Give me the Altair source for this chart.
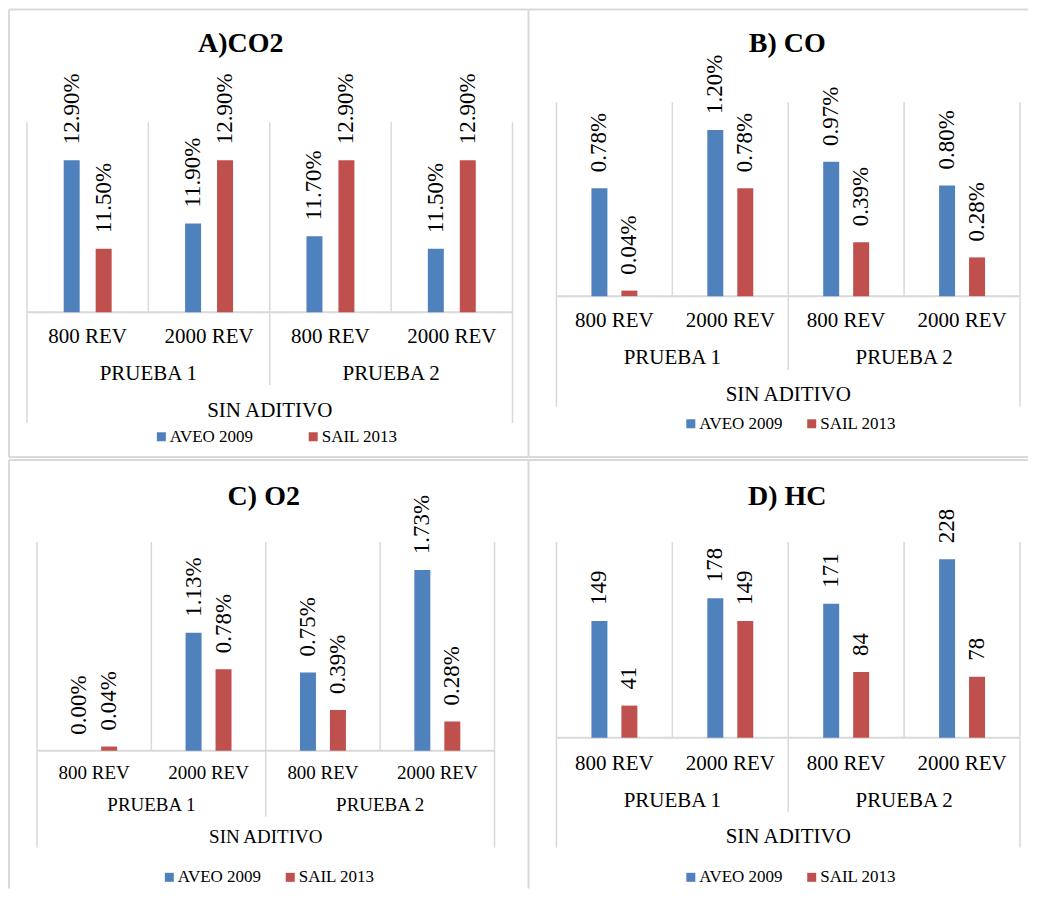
import altair as alt
import pandas as pd

# ---------------- data ----------------
REV = ["800 REV", "2000 REV", "800 REV", "2000 REV"]
PRUEBA = ["PRUEBA 1", "PRUEBA 1", "PRUEBA 2", "PRUEBA 2"]
LEVEL3 = ["SIN ADITIVO"]
SERIES = ["AVEO 2009", "SAIL 2013"]
COLORS = ["#4F81BD", "#C0504D"]

TITLES = ["A)CO2", "B) CO", "C) O2", "D) HC"]

CO2_AVEO = [12.90, 11.90, 11.70, 11.50]
CO2_SAIL = [11.50, 12.90, 12.90, 12.90]
CO_AVEO = [0.78, 1.20, 0.97, 0.80]
CO_SAIL = [0.04, 0.78, 0.39, 0.28]
O2_AVEO = [0.00, 1.13, 0.75, 1.73]
O2_SAIL = [0.04, 0.78, 0.39, 0.28]
HC_AVEO = [149, 178, 171, 228]
HC_SAIL = [41, 149, 84, 78]

Y_DOMAINS = [[10.5, 13.5], [0, 1.4], [0, 2.0], [0, 250]]

FONT = "'Liberation Serif', 'Times New Roman', Times, serif"
GRID = "#D9D9D9"
BORDER = "#D9D9D9"


def pct(v):
    return f"{v:.2f}%"


def intf(v):
    return f"{int(v)}"


# layout of each panel (pixels inside its cell)
GEOM = [
    dict(W=521, H=449, x0=19, x1=505, top=114, base=304, tcx=233, ty=44,
         l1=335, l2=372, l3=409, f1=21, f2=21, f3=21, lx=145, ly=420, cp=51, off=16,
         eo=415, em=377, borders=[("h", 1, 521, 1), ("h", 1, 521, 449), ("v", 1, 1, 449)]),
    dict(W=500, H=449, x0=28, x1=492, top=94, base=288, tcx=259, ty=44,
         l1=319, l2=356, l3=393, f1=21, f2=21, f3=21, lx=154, ly=407, cp=20, off=15,
         eo=399, em=362, borders=[("h", 0, 500, 1), ("h", 0, 500, 449), ("v", 0, 1, 449)]),
    dict(W=521, H=432, x0=29, x1=487, top=85, base=294, tcx=256, ty=48,
         l1=322, l2=354, l3=386, f1=19, f2=19, f3=19, lx=153, ly=412, cp=20, off=15,
         eo=391, em=360, borders=[("h", 1, 521, 3), ("v", 1, 3, 432)]),
    dict(W=500, H=432, x0=28, x1=492, top=85, base=281, tcx=259, ty=48,
         l1=313, l2=350, l3=386, f1=21, f2=21, f3=21, lx=154, ly=412, cp=20, off=15,
         eo=391, em=355, borders=[("h", 0, 500, 3), ("v", 0, 3, 432)]),
]


def make_panel(title, aveo, sail, ydom, fmt, g):
    keys = [f"{p}|{r}" for p, r in zip(PRUEBA, REV)]
    bars = pd.DataFrame({
        "key": keys * 2,
        "serie": [SERIES[0]] * 4 + [SERIES[1]] * 4,
        "valor": list(aveo) + list(sail),
    })
    bars["etiqueta"] = [fmt(v) for v in bars["valor"]]
    groups = pd.DataFrame({"key": keys, "rev": REV, "prueba": PRUEBA})
    one = pd.DataFrame({"t": [title]})

    xscale = alt.Scale(domain=keys, range=[g["x0"], g["x1"]], paddingInner=0, paddingOuter=0)
    yscale = alt.Scale(domain=ydom, range=[g["base"], g["top"]], zero=False, nice=False)
    cscale = alt.Scale(domain=SERIES, range=COLORS)

    layers = []
    # grid lines at group boundaries
    base_g = alt.Chart(groups)
    layers.append(base_g.mark_rule(color=GRID, strokeWidth=1.5).encode(
        x=alt.X("key:N", bandPosition=0, scale=xscale, axis=None),
        y=alt.Y(datum=ydom[1], scale=yscale, axis=None),
        y2=alt.datum(ydom[0]),
    ))
    layers.append(base_g.transform_filter(alt.datum.key == keys[3]).mark_rule(color=GRID, strokeWidth=1.5).encode(
        x=alt.X("key:N", bandPosition=1, axis=None),
        y=alt.Y(datum=ydom[1], axis=None),
        y2=alt.datum(ydom[0]),
    ))
    for k, bp, end in [(keys[0], 0, g["eo"]), (keys[3], 1, g["eo"]), (keys[2], 0, g["em"])]:
        layers.append(base_g.transform_filter(alt.datum.key == k).mark_rule(color=GRID, strokeWidth=1.5).encode(
            x=alt.X("key:N", bandPosition=bp, axis=None),
            y=alt.value(g["base"]),
            y2=alt.value(end),
        ))
    layers.append(alt.Chart(one).mark_rule(color=GRID, strokeWidth=2).encode(
        x=alt.value(g["x0"]),
        x2=alt.value(g["x1"]),
        y=alt.Y(datum=ydom[0], axis=None),
    ))

    # bars + labels, one layer per series
    for i, s in enumerate(SERIES):
        off = -g["off"] if i == 0 else g["off"]
        src = alt.Chart(bars).transform_filter(alt.datum.serie == s)
        enc = dict(
            x=alt.X("key:N", axis=None),
            y=alt.Y("valor:Q", axis=None),
        )
        layers.append(src.mark_bar(width=16, xOffset=off).encode(
            y2=alt.datum(ydom[0]),
            color=alt.Color(
                "serie:N", scale=cscale,
                legend=alt.Legend(
                    orient="none", legendX=g["lx"], legendY=g["ly"], direction="horizontal",
                    title=None, symbolType="square", symbolSize=81, symbolStrokeWidth=0,
                    labelFont=FONT, labelFontSize=17, labelColor="black", labelOffset=0,
                    columnPadding=g["cp"], padding=0,
                ),
            ),
            **enc,
        ))
        layers.append(src.mark_text(
            angle=270, align="left", baseline="middle", dx=16, xOffset=off,
            font=FONT, fontSize=23, color="black",
        ).encode(text="etiqueta:N", **enc))

    # hierarchical category labels
    layers.append(base_g.mark_text(font=FONT, fontSize=g["f1"], baseline="alphabetic", color="black").encode(
        x=alt.X("key:N", axis=None),
        y=alt.value(g["l1"]),
        text="rev:N",
    ))
    layers.append(base_g.transform_filter(
        (alt.datum.key == keys[0]) | (alt.datum.key == keys[2])
    ).mark_text(font=FONT, fontSize=g["f2"], baseline="alphabetic", color="black").encode(
        x=alt.X("key:N", bandPosition=1, axis=None),
        y=alt.value(g["l2"]),
        text="prueba:N",
    ))
    layers.append(alt.Chart(pd.DataFrame({"key": [keys[1]], "t": LEVEL3})).mark_text(
        font=FONT, fontSize=g["f3"], baseline="alphabetic", color="black"
    ).encode(
        x=alt.X("key:N", bandPosition=1, axis=None),
        y=alt.value(g["l3"]),
        text="t:N",
    ))
    # title
    layers.append(alt.Chart(one).mark_text(
        font=FONT, fontSize=28, fontWeight="bold", baseline="alphabetic", color="black"
    ).encode(x=alt.value(g["tcx"]), y=alt.value(g["ty"]), text="t:N"))

    # panel borders
    for kind, a, b, c in g["borders"]:
        if kind == "h":
            layers.append(alt.Chart(one).mark_rule(color=BORDER, strokeWidth=2).encode(
                x=alt.value(a), x2=alt.value(b), y=alt.value(c)))
        else:
            layers.append(alt.Chart(one).mark_rule(color=BORDER, strokeWidth=2).encode(
                x=alt.value(a), y=alt.value(b), y2=alt.value(c)))
    return alt.layer(*layers).properties(width=g["W"], height=g["H"])


panels = [
    make_panel(TITLES[0], CO2_AVEO, CO2_SAIL, Y_DOMAINS[0], pct, GEOM[0]),
    make_panel(TITLES[1], CO_AVEO, CO_SAIL, Y_DOMAINS[1], pct, GEOM[1]),
    make_panel(TITLES[2], O2_AVEO, O2_SAIL, Y_DOMAINS[2], pct, GEOM[2]),
    make_panel(TITLES[3], HC_AVEO, HC_SAIL, Y_DOMAINS[3], intf, GEOM[3]),
]

chart = alt.concat(*panels, columns=2, spacing=0, bounds="flush").resolve_scale(
    x="independent", y="independent", color="independent"
).resolve_legend(color="independent").properties(
    padding=0, background="white"
).configure_view(stroke=None)

chart.save("out.html", embed_options={"renderer": "svg", "actions": False})
